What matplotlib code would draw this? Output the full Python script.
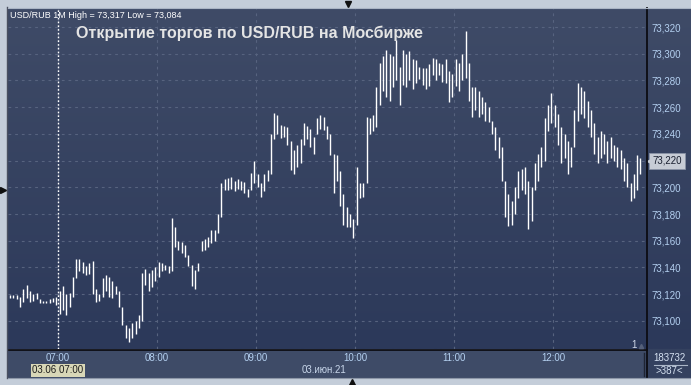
import numpy as np
import pandas as pd
import matplotlib
matplotlib.use('Agg')
import matplotlib.pyplot as plt
from matplotlib.colors import LinearSegmentedColormap

# ---------------- data (2-minute bars, 03.06.2021, USD/RUB) ----------------
start_time = '2021-06-03 06:31'
lows = [
    73.117, 73.117, 73.116, 73.110, 73.114, 73.117, 73.114, 73.115, 73.116, 73.113,
    73.113, 73.113, 73.113, 73.114, 73.112, 73.105, 73.108, 73.104, 73.110, 73.118,
    73.132, 73.137, 73.136, 73.134, 73.135, 73.120, 73.114, 73.115, 73.118, 73.122,
    73.118, 73.117, 73.120, 73.110, 73.097, 73.087, 73.084, 73.087, 73.090, 73.095,
    73.100, 73.127, 73.122, 73.125, 73.130, 73.133, 73.137, 73.138, 73.136, 73.137,
    73.155, 73.153, 73.151, 73.148, 73.141, 73.126, 73.124, 73.137, 73.152, 73.153,
    73.155, 73.158, 73.160, 73.166, 73.178, 73.198, 73.198, 73.199, 73.197, 73.199,
    73.198, 73.196, 73.193, 73.198, 73.203, 73.200, 73.193, 73.197, 73.205, 73.210,
    73.236, 73.240, 73.237, 73.238, 73.232, 73.213, 73.210, 73.215, 73.218, 73.232,
    73.236, 73.230, 73.225, 73.240, 73.244, 73.243, 73.236, 73.224, 73.196, 73.205,
    73.186, 73.172, 73.170, 73.170, 73.162, 73.172, 73.192, 73.193, 73.203, 73.240,
    73.242, 73.245, 73.262, 73.272, 73.268, 73.265, 73.275, 73.280, 73.262, 73.277,
    73.275, 73.280, 73.274, 73.278, 73.281, 73.277, 73.274, 73.276, 73.284, 73.280,
    73.284, 73.279, 73.278, 73.264, 73.268, 73.276, 73.272, 73.280, 73.282, 73.265,
    73.253, 73.258, 73.253, 73.255, 73.250, 73.249, 73.240, 73.228, 73.222, 73.205,
    73.178, 73.171, 73.172, 73.180, 73.192, 73.198, 73.195, 73.169, 73.175, 73.198,
    73.205, 73.215, 73.220, 73.242, 73.248, 73.245, 73.232, 73.218, 73.222, 73.210,
    73.215, 73.230, 73.250, 73.255, 73.252, 73.245, 73.238, 73.225, 73.218, 73.222,
    73.225, 73.218, 73.222, 73.220, 73.215, 73.214, 73.205, 73.200, 73.190, 73.192,
    73.198, 73.210,
]
highs = [
    73.119, 73.119, 73.119, 73.118, 73.124, 73.127, 73.122, 73.120, 73.121, 73.116,
    73.115, 73.115, 73.116, 73.117, 73.118, 73.122, 73.126, 73.120, 73.121, 73.133,
    73.146, 73.146, 73.144, 73.141, 73.143, 73.145, 73.124, 73.120, 73.132, 73.134,
    73.133, 73.130, 73.126, 73.122, 73.110, 73.097, 73.095, 73.098, 73.100, 73.104,
    73.136, 73.139, 73.136, 73.138, 73.140, 73.144, 73.143, 73.142, 73.141, 73.177,
    73.170, 73.160, 73.159, 73.157, 73.149, 73.142, 73.138, 73.143, 73.160, 73.161,
    73.163, 73.168, 73.168, 73.180, 73.203, 73.206, 73.207, 73.208, 73.205, 73.206,
    73.205, 73.204, 73.199, 73.211, 73.220, 73.210, 73.203, 73.210, 73.213, 73.240,
    73.256, 73.254, 73.247, 73.246, 73.245, 73.235, 73.228, 73.232, 73.236, 73.248,
    73.246, 73.244, 73.238, 73.252, 73.254, 73.253, 73.246, 73.240, 73.225, 73.224,
    73.212, 73.195, 73.185, 73.180, 73.176, 73.215, 73.203, 73.203, 73.253, 73.252,
    73.254, 73.275, 73.293, 73.298, 73.303, 73.300, 73.298, 73.310, 73.290, 73.303,
    73.300, 73.302, 73.296, 73.295, 73.290, 73.289, 73.289, 73.292, 73.297, 73.296,
    73.293, 73.292, 73.296, 73.287, 73.285, 73.296, 73.293, 73.300, 73.317, 73.293,
    73.275, 73.275, 73.272, 73.268, 73.264, 73.260, 73.250, 73.245, 73.238, 73.230,
    73.205, 73.195, 73.190, 73.200, 73.212, 73.214, 73.215, 73.205, 73.200, 73.218,
    73.225, 73.230, 73.252, 73.262, 73.271, 73.262, 73.255, 73.245, 73.240, 73.235,
    73.230, 73.258, 73.278, 73.275, 73.272, 73.265, 73.258, 73.248, 73.238, 73.242,
    73.240, 73.235, 73.238, 73.232, 73.230, 73.228, 73.222, 73.218, 73.203, 73.210,
    73.224, 73.222,
]
last_price = 73.220
price_ticks = [73.100, 73.120, 73.140, 73.160, 73.180, 73.200, 73.220, 73.240,
               73.260, 73.280, 73.300, 73.320]
hour_ticks = ['07:00', '08:00', '09:00', '10:00', '11:00', '12:00']
title = 'Открытие торгов по USD/RUB на Мосбирже'
info = 'USD/RUB 1M High = 73,317 Low = 73,084'
date_label = '03.июн.21'
cursor_label = '03.06 07:00'
volume_label = '183732'
bars_label = '>387<'

# ---------------- geometry ----------------
W, H = 691, 385
fig = plt.figure(figsize=(W / 100, H / 100), dpi=100)
fig.patch.set_facecolor('#c4cdd9')
FONT = 'Liberation Sans'


def px_axes(x0, y0, x1, y1, **kw):
    return fig.add_axes([x0 / W, 1 - y1 / H, (x1 - x0) / W, (y1 - y0) / H], **kw)


# background layer (pixel coordinates)
bg = px_axes(0, 0, W, H)
bg.set_xlim(0, W)
bg.set_ylim(H, 0)
bg.axis('off')
cmap = LinearSegmentedColormap.from_list('g', ['#3f4b67', '#2c395a'])
grad = np.linspace(0, 1, 256).reshape(-1, 1)
bg.imshow(grad, cmap=cmap, extent=[8, W, 349, 8], aspect='auto', zorder=0)
bg.add_patch(plt.Rectangle((8, 350), 639, 27, color='#3e4b67', zorder=1))
bg.add_patch(plt.Rectangle((647, 349), W - 647, 28, color='#34415f', zorder=1))

# main price axes
ax = px_axes(8, 8, 647, 349)
ax.patch.set_alpha(0)
times = pd.date_range(start_time, periods=len(lows), freq='2min')
t0 = pd.Timestamp('2021-06-03 07:00')
tmin = (times - t0).total_seconds() / 60.0
ax.vlines(tmin, lows, highs, color='white', lw=1.0, zorder=3)
ax.set_xlim(-30.3, 357)
ax.set_ylim(73.0789, 73.3343)
for s in ax.spines.values():
    s.set_visible(False)
ax.set_yticks(price_ticks)
ax.set_xticks([60 * i for i in range(len(hour_ticks))])
ax.tick_params(axis='both', length=0, labelleft=False, labelbottom=False,
               labelright=True, right=False, left=False)
ax.set_yticklabels([f'{v:.3f}'.replace('.', ',') for v in price_ticks],
                   fontsize=7, color='#b4d0f0', fontfamily=FONT)
ax.tick_params(axis='y', pad=3.5)
ax.grid(True, color='#57637f', lw=0.8, linestyle=(0, (2.5, 3.5)), zorder=1)
ax.axvline(0, color='white', lw=1, linestyle=(0, (1.2, 1.5)), zorder=4)
# time labels
for i, lab in enumerate(hour_ticks):
    ax.text(60 * i, -0.027, lab, transform=ax.get_xaxis_transform(),
            ha='center', va='center', fontsize=7, color='#b4d0f0', fontfamily=FONT,
            clip_on=False)
ax.text(0.495, -0.062, date_label, transform=ax.transAxes, ha='center', va='center',
        fontsize=7, color='#c8d6ea', fontfamily=FONT, clip_on=False)
ax.text(0, -0.062, cursor_label, transform=ax.get_xaxis_transform(), ha='center',
        va='center', fontsize=7, color='#1c1c1c', fontfamily=FONT, clip_on=False,
        bbox=dict(boxstyle='square,pad=0.15', fc='#d8d7b7', ec='none'))
# last price label
ax.text(1.008, last_price, f'{last_price:.3f}'.replace('.', ','),
        transform=ax.get_yaxis_transform(), ha='left', va='center', fontsize=7,
        color='#1a2030', fontfamily=FONT, clip_on=False, zorder=6,
        bbox=dict(boxstyle='square,pad=0.3', fc='#c7ccd5', ec='#8a93a6', lw=0.6))
ax.plot([1.004], [last_price], marker='<', ms=4, color='#c7ccd5',
        transform=ax.get_yaxis_transform(), clip_on=False, zorder=7)

# overlay (pixel coordinates)
ov = px_axes(0, 0, W, H)
ov.set_xlim(0, W)
ov.set_ylim(H, 0)
ov.axis('off')
ov.patch.set_alpha(0)
ov.plot([8, 647], [349.5, 349.5], color='#0c0c12', lw=1.3)
ov.plot([647.5, 647.5], [8, 377], color='#0c0c12', lw=1.3)
ov.plot([7.5, 7.5], [7, 378], color='#4a5060', lw=1)
ov.plot([8, W], [7.5, 7.5], color='#aab4c4', lw=0.8)
ov.plot([8, W], [377.5, 377.5], color='#8d97a8', lw=0.8)
ov.plot([644, 644], [353, 376], color='#1e2434', lw=1)
ov.text(10, 15.5, info, fontsize=6.5, color='white', va='center', ha='left', fontfamily=FONT)
ov.text(76, 33.5, title, fontsize=11.5, fontweight='bold', color='#e4e4e4',
        va='center', ha='left', fontfamily=FONT)
ov.text(634, 345, '1', fontsize=7, color='#d0d8e8', va='center', ha='center', fontfamily=FONT)
ov.plot([641], [345.5], marker='^', ms=3, color='#55607a')
ov.text(669, 358, volume_label, fontsize=7, color='#d6e2f2', va='center', ha='center',
        fontfamily=FONT)
ov.plot([654, 687], [364.5, 364.5], color='#aab6c8', lw=0.8)
ov.text(669, 371, bars_label, fontsize=7, color='#d6e2f2', va='center', ha='center',
        fontfamily=FONT)
ov.plot([348], [3.5], marker='v', ms=5, color='#101010', clip_on=False)
ov.plot([352], [381.5], marker='^', ms=5, color='#101010', clip_on=False)
ov.plot([3], [190], marker='>', ms=4, color='#101010', clip_on=False)

fig.savefig('out.png', dpi=100, facecolor=fig.get_facecolor())
